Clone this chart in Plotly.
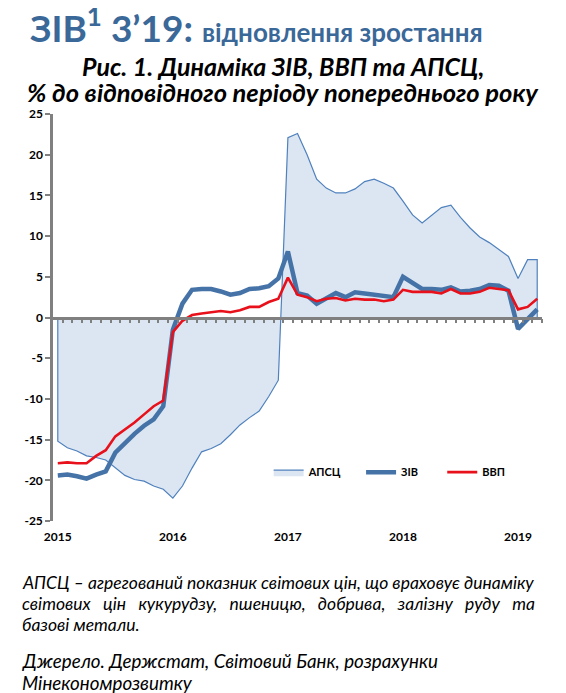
import plotly.graph_objects as go

# Monthly data, Jan 2015 - Mar 2019, % y/y
months = [f"{m:02d}.{y}" for y in range(2015, 2020) for m in range(1, 13)][:51]
years = ["2015", "2016", "2017", "2018", "2019"]
year_ticks = ["01.2015", "01.2016", "01.2017", "01.2018", "01.2019"]
y_ticks = [-25, -20, -15, -10, -5, 0, 5, 10, 15, 20, 25]
y_labels = ["-25", "-20", "-15", "-10", "-5", "0", "5", "10", "15", "20", "25"]

apsc = [-15.2, -16.0, -16.4, -17.0, -17.2, -17.5, -18.5, -19.4, -19.9, -20.1, -20.7, -21.1,
        -22.2, -20.7, -18.5, -16.5, -16.1, -15.5, -14.4, -13.2, -12.3, -11.5, -9.7, -7.7,
        22.1, 22.6, 20.0, 17.0, 15.9, 15.3, 15.3, 15.8, 16.7, 17.0, 16.5, 15.9,
        14.3, 12.6, 11.6, 12.6, 13.5, 13.8, 12.3, 11.0, 9.9, 9.2, 8.3, 7.5,
        4.8, 7.1, 7.1]
ziv = [-19.4, -19.3, -19.5, -19.8, -19.3, -18.9, -16.6, -15.4, -14.3, -13.3, -12.5, -10.9,
       -1.5, 1.7, 3.4, 3.5, 3.5, 3.2, 2.8, 3.0, 3.5, 3.6, 3.85, 4.8,
       8.1, 3.0, 2.7, 1.7, 2.4, 3.0, 2.5, 3.1, 2.95, 2.8, 2.6, 2.5,
       5.0, 4.2, 3.5, 3.5, 3.4, 3.7, 3.2, 3.3, 3.5, 4.0, 3.9, 3.3,
       -1.4, -0.2, 1.0]
gdp = [-17.9, -17.8, -17.9, -17.9, -17.0, -16.3, -14.6, -13.8, -12.9, -11.9, -10.9, -10.2,
       -1.8, -0.4, 0.3, 0.5, 0.65, 0.8, 0.65, 0.9, 1.3, 1.3, 1.9, 2.3,
       4.9, 2.8, 2.5, 2.0, 2.3, 2.4, 2.1, 2.3, 2.2, 2.2, 2.0, 2.2,
       3.4, 3.15, 3.15, 3.15, 2.95, 3.5, 2.95, 2.95, 3.15, 3.65, 3.5, 3.35,
       1.0, 1.3, 2.3]

FONT = "Lato"
GREY = "#808080"

fig = go.Figure()

# area closed down to zero at both ends, like the Excel area chart
fig.add_trace(go.Scatter(
    x=[months[0]] + months + [months[-1]], y=[0] + apsc + [0],
    name="АПСЦ", mode="lines", fill="toself", fillcolor="#DCE6F2",
    line=dict(color="#4F81BD", width=1.2), legend="legend"
))
fig.add_trace(go.Scatter(
    x=months, y=ziv, name="ЗІВ", mode="lines",
    line=dict(color="#4573A7", width=4.5), legend="legend2"
))
fig.add_trace(go.Scatter(
    x=months, y=gdp, name="ВВП", mode="lines",
    line=dict(color="#E8101A", width=2.6), legend="legend3"
))
# invisible trace so the zero-line axis is drawn
fig.add_trace(go.Scatter(x=[0], y=[0], xaxis="x2", mode="markers",
                         marker=dict(opacity=0), showlegend=False, hoverinfo="skip"))

n = len(months)
leg = dict(orientation="h", y=0.12, xanchor="left", yanchor="middle",
           font=dict(size=11, weight="bold"), bgcolor="rgba(0,0,0,0)")
# page body adds an 8px margin, so the figure is shifted by 8px
fig.update_layout(
    width=558, height=685,
    margin=dict(l=44.5, r=24, t=106, b=172, autoexpand=False),
    paper_bgcolor="white", plot_bgcolor="white",
    font=dict(family=FONT, color="black"),
    xaxis=dict(
        type="category", categoryorder="array", categoryarray=months,
        range=[-0.5, n - 0.5], automargin=False,
        tickvals=year_ticks, ticktext=years, ticks="",
        showline=False, showgrid=False, zeroline=False,
        tickfont=dict(size=12, weight="bold"), ticklabelstandoff=7,
    ),
    # zero line with small ticks between months
    xaxis2=dict(
        overlaying="x", anchor="free", position=0.5, side="bottom",
        range=[-0.5, n - 0.5], showgrid=False, zeroline=False, automargin=False,
        showline=True, linecolor=GREY, linewidth=2.5,
        tickmode="array", tickvals=[k + 0.5 for k in range(n)],
        ticks="outside", ticklen=4, tickwidth=2, tickcolor=GREY,
        showticklabels=False,
    ),
    yaxis=dict(
        range=[-25, 25], tickvals=y_ticks, ticktext=y_labels,
        showgrid=False, zeroline=False, automargin=False,
        showline=True, linecolor=GREY, linewidth=2.5,
        ticks="outside", ticklen=5, tickwidth=2, tickcolor=GREY,
        tickfont=dict(size=12, weight="bold"),
    ),
    legend=dict(leg, x=0.441),
    legend2=dict(leg, x=0.630),
    legend3=dict(leg, x=0.796),
    showlegend=True,
)

title_blue = "#3A6898"
fig.add_annotation(
    xref="paper", yref="paper", x=-0.052, y=1.0, yshift=89, xanchor="left", yanchor="middle",
    text=("<b><span style='font-size:37px'>ЗІВ<sup>1</sup> 3’19:</span> "
          "<span style='font-size:26px'>відновлення зростання</span></b>"),
    showarrow=False, font=dict(family=FONT, color=title_blue, size=37),
)
fig.add_annotation(
    xref="paper", yref="paper", x=0.47, y=1.0, yshift=48, xanchor="center", yanchor="middle",
    text="<b><i>Рис. 1. Динаміка ЗІВ, ВВП та АПСЦ,</i></b>",
    showarrow=False, font=dict(family=FONT, size=25, color="black"),
)
fig.add_annotation(
    xref="paper", yref="paper", x=0.47, y=1.0, yshift=22, xanchor="center", yanchor="middle",
    text="<b><i>% до відповідного періоду попереднього року</i></b>",
    showarrow=False, font=dict(family=FONT, size=25.5, color="black"),
)

note_lines = [
    "АПСЦ – агрегований показник світових цін, що враховує динаміку",
    "світових\u00a0\u00a0 цін\u00a0\u00a0 кукурудзу,\u00a0\u00a0 пшеницю,\u00a0\u00a0 добрива,\u00a0\u00a0 залізну\u00a0\u00a0 руду\u00a0\u00a0 та",
    "базові метали.",
]
for k, line in enumerate(note_lines):
    fig.add_annotation(
        xref="paper", yref="paper", x=-0.067, y=0, yshift=-61 - 21 * k,
        xanchor="left", yanchor="middle", text=f"<i>{line}</i>",
        showarrow=False, font=dict(family=FONT, size=17.5, color="black"),
    )

source_lines = ["Джерело. Держстат, Світовий Банк, розрахунки", "Мінекономрозвитку"]
for k, line in enumerate(source_lines):
    fig.add_annotation(
        xref="paper", yref="paper", x=-0.067, y=0, yshift=-139 - 22 * k,
        xanchor="left", yanchor="middle", text=f"<i>{line}</i>",
        showarrow=False, font=dict(family=FONT, size=18.8, color="black"),
    )

fig.write_html("out.html")
